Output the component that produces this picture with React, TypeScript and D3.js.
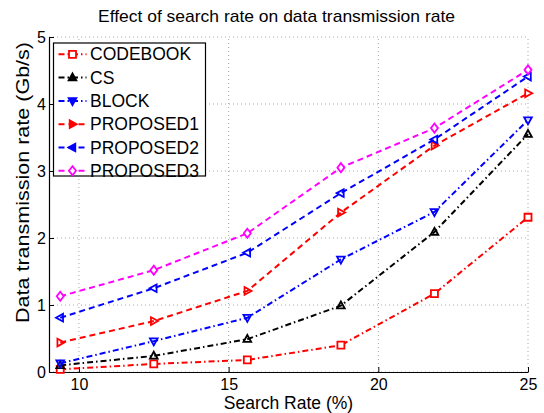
import { useEffect, useRef } from 'react';
import * as d3 from 'd3';

// x positions of the samples (search rate, %)
const searchRates = [9.375, 12.5, 15.625, 18.75, 21.875, 25];

const codebook = [0.04, 0.12, 0.18, 0.40, 1.17, 2.31];
const cs = [0.10, 0.24, 0.49, 0.99, 2.09, 3.55];
const block = [0.13, 0.46, 0.81, 1.68, 2.39, 3.76];
const proposed1 = [0.44, 0.76, 1.21, 2.38, 3.38, 4.16];
const proposed2 = [0.81, 1.25, 1.78, 2.67, 3.47, 4.41];
const proposed3 = [1.13, 1.52, 2.07, 3.05, 3.64, 4.51];

const seriesNames = ['CODEBOOK', 'CS', 'BLOCK', 'PROPOSED1', 'PROPOSED2', 'PROPOSED3'];
const xTicks = [10, 15, 20, 25];
const yTicks = [0, 1, 2, 3, 4, 5];

const FONT = '"Liberation Sans", Arial, sans-serif';

const App = () => {
  const svgRef = useRef<SVGSVGElement>(null);

  useEffect(() => {
    const width = 544;
    const height = 413;
    const margin = { top: 37, right: 16, bottom: 41, left: 49 };

    const svg = d3.select(svgRef.current)
      .attr('width', width)
      .attr('height', height)
      .style('position', 'absolute')
      .style('left', '0px')
      .style('top', '0px')
      .style('background', '#fff')
      .style('font-family', FONT);

    svg.selectAll('*').remove();

    const x = d3.scaleLinear().domain([9, 25]).range([margin.left, width - margin.right]);
    const y = d3.scaleLinear().domain([0, 5]).range([height - margin.bottom, margin.top]);

    const series = [
      { name: seriesNames[0], values: codebook, color: '#ff0000', dash: '6,3,1.5,3', marker: 'square' },
      { name: seriesNames[1], values: cs, color: '#000000', dash: '6,3,1.5,3', marker: 'up' },
      { name: seriesNames[2], values: block, color: '#0000ff', dash: '6,3,1.5,3', marker: 'down' },
      { name: seriesNames[3], values: proposed1, color: '#ff0000', dash: '6,4', marker: 'right' },
      { name: seriesNames[4], values: proposed2, color: '#0000ff', dash: '6,4', marker: 'left' },
      { name: seriesNames[5], values: proposed3, color: '#ff00ff', dash: '6,4', marker: 'diamond' },
    ];

    // dotted grid
    const grid = svg.append('g').attr('stroke', '#a8a8a8').attr('stroke-width', 1).attr('stroke-dasharray', '1,3');
    xTicks.forEach(t => {
      grid.append('line').attr('x1', x(t)).attr('x2', x(t)).attr('y1', y(0)).attr('y2', y(5));
    });
    yTicks.forEach(t => {
      grid.append('line').attr('x1', x(9)).attr('x2', x(25)).attr('y1', y(t)).attr('y2', y(t));
    });

    // axes (ticks point inward, like MATLAB)
    const xAxis = svg.append('g')
      .attr('transform', `translate(0,${y(0)})`)
      .call(d3.axisBottom(x).tickValues(xTicks).tickFormat(d3.format('d')).tickSize(-5).tickPadding(7).tickSizeOuter(0));
    const yAxis = svg.append('g')
      .attr('transform', `translate(${x(9)},0)`)
      .call(d3.axisLeft(y).tickValues(yTicks).tickFormat(d3.format('d')).tickSize(-5).tickPadding(3).tickSizeOuter(0));
    [xAxis, yAxis].forEach(a => {
      a.selectAll('path').attr('stroke', '#000').attr('stroke-width', 1.2);
      a.selectAll('line').attr('stroke', '#000');
      a.selectAll('text').attr('fill', '#000').style('font-size', '16px').style('font-family', FONT);
    });

    const markerPath = (type: string, s: number) => {
      switch (type) {
        case 'square': return `M${-s},${-s}H${s}V${s}H${-s}Z`;
        case 'up': return `M0,${-s * 1.2}L${s * 1.1},${s * 0.8}L${-s * 1.1},${s * 0.8}Z`;
        case 'down': return `M0,${s * 1.2}L${s * 1.1},${-s * 0.8}L${-s * 1.1},${-s * 0.8}Z`;
        case 'right': return `M${s * 1.2},0L${-s * 0.8},${s * 1.1}L${-s * 0.8},${-s * 1.1}Z`;
        case 'left': return `M${-s * 1.2},0L${s * 0.8},${s * 1.1}L${s * 0.8},${-s * 1.1}Z`;
        default: return `M0,${-s * 1.3}L${s},0L0,${s * 1.3}L${-s},0Z`;
      }
    };

    const line = d3.line<number>()
      .x((d, i) => x(searchRates[i]))
      .y(d => y(d));

    series.forEach(s => {
      svg.append('path')
        .datum(s.values)
        .attr('fill', 'none')
        .attr('stroke', s.color)
        .attr('stroke-width', 2)
        .attr('stroke-dasharray', s.dash)
        .attr('d', line);
      svg.append('g').selectAll('path')
        .data(s.values)
        .enter()
        .append('path')
        .attr('transform', (d, i) => `translate(${x(searchRates[i])},${y(d)})`)
        .attr('d', markerPath(s.marker, 3.5))
        .attr('fill', s.marker === 'square' || s.marker === 'diamond' ? '#fff' : 'none')
        .attr('stroke', s.color)
        .attr('stroke-width', 1.8);
    });

    // legend
    const legend = svg.append('g').attr('transform', 'translate(53.5,43)');
    legend.append('rect')
      .attr('width', 152).attr('height', 133)
      .attr('fill', '#fff').attr('stroke', '#000').attr('stroke-width', 1.2);
    series.forEach((s, i) => {
      const ly = 11.3 + i * 23.3;
      legend.append('line')
        .attr('x1', 5).attr('x2', 33).attr('y1', ly).attr('y2', ly)
        .attr('stroke', s.color).attr('stroke-width', 2).attr('stroke-dasharray', s.dash);
      legend.append('path')
        .attr('transform', `translate(19,${ly})`)
        .attr('d', markerPath(s.marker, 3.5))
        .attr('fill', s.marker === 'square' || s.marker === 'diamond' ? '#fff' : s.color)
        .attr('stroke', s.color)
        .attr('stroke-width', 1.8);
      legend.append('text')
        .attr('x', 36.5).attr('y', ly + 6)
        .style('font-size', '17.5px')
        .text(s.name);
    });

    // title
    svg.append('text')
      .attr('x', 276.5).attr('y', 22)
      .attr('text-anchor', 'middle')
      .attr('textLength', 357)
      .attr('lengthAdjust', 'spacingAndGlyphs')
      .style('font-size', '17px')
      .text('Effect of search rate on data transmission rate');

    svg.append('text')
      .attr('x', 288.5).attr('y', 408.5)
      .attr('text-anchor', 'middle')
      .style('font-size', '17.5px')
      .text('Search Rate (%)');

    svg.append('text')
      .attr('text-anchor', 'middle')
      .attr('transform', 'translate(29,182.5)rotate(-90)')
      .attr('textLength', 281)
      .attr('lengthAdjust', 'spacingAndGlyphs')
      .style('font-size', '18px')
      .text('Data transmission rate (Gb/s)');
  }, []);

  return <svg ref={svgRef}></svg>;
};

export default App;
